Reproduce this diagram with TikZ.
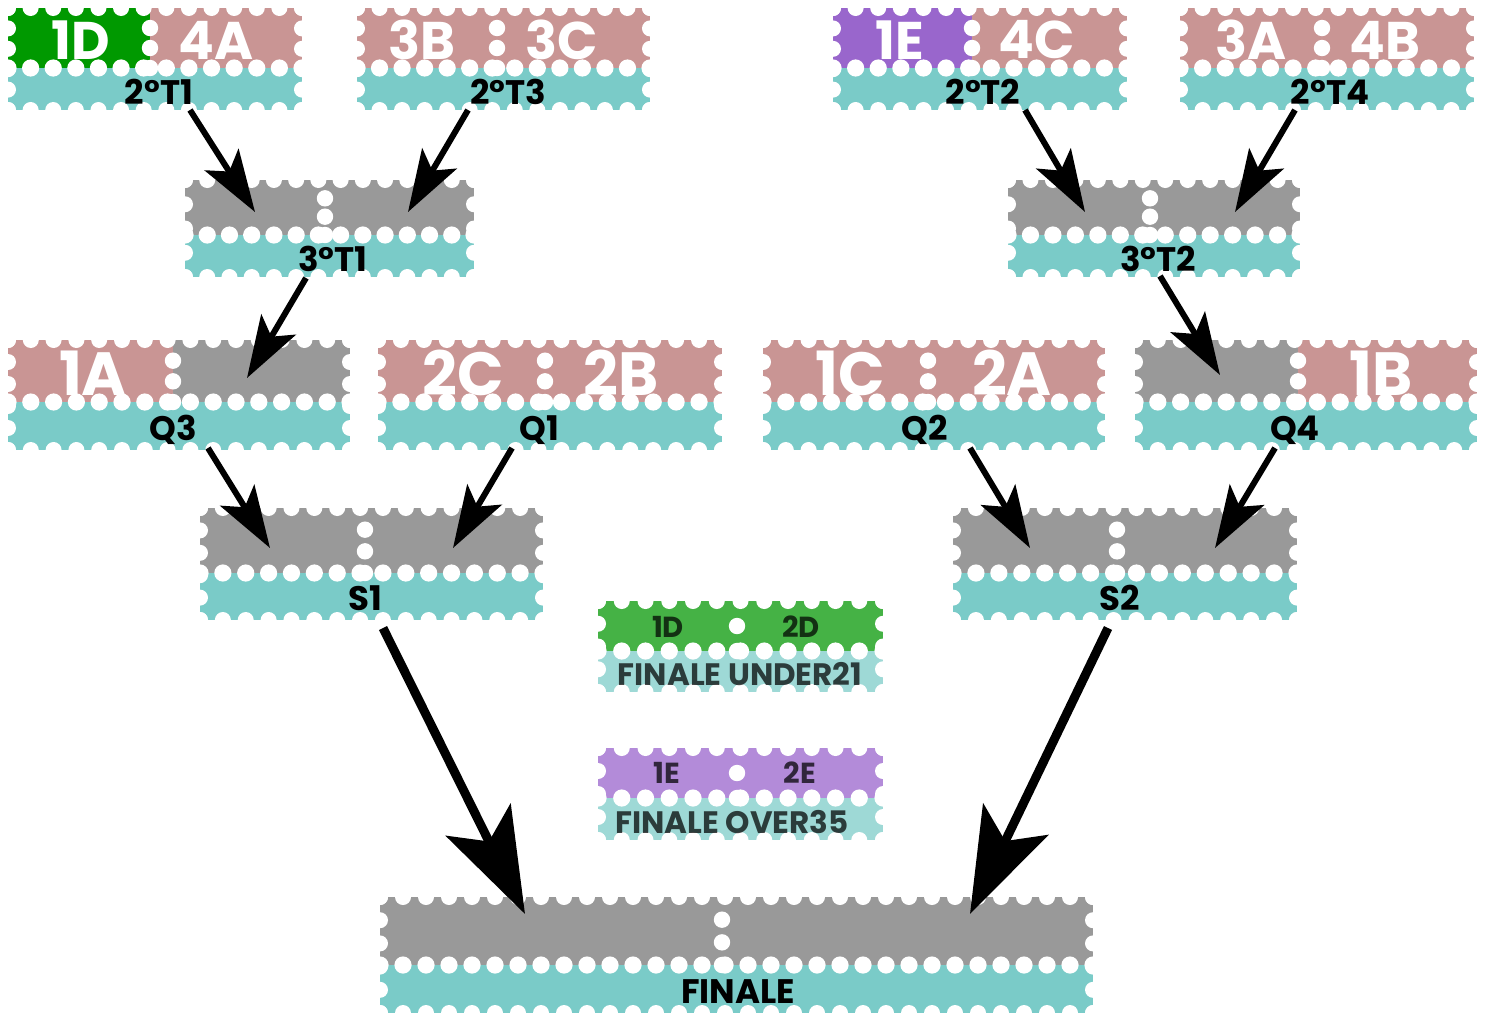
\documentclass[tikz,border=0pt]{standalone}
\usepackage{fontspec}
\setmainfont{Poppins}
\usetikzlibrary{arrows.meta}
\definecolor{cgreen}{HTML}{009900}
\definecolor{cpink}{HTML}{C99594}
\definecolor{cteal}{HTML}{7ACBC8}
\definecolor{cgray}{HTML}{999999}
\definecolor{cpurple}{HTML}{9966CC}
\definecolor{lgreen}{HTML}{45B245}
\definecolor{lpurple}{HTML}{B38BD9}
\definecolor{lteal}{HTML}{9ED9D6}
\tikzset{
  toptxt/.style={text=white,inner sep=0pt,font=\bfseries\fontsize{53}{53}\selectfont},
  bigtop/.style={text=white,inner sep=0pt,font=\bfseries\fontsize{61}{61}\selectfont},
  lbl/.style={text=black,inner sep=0pt,font=\bfseries\fontsize{34}{34}\selectfont},
  legtop/.style={text=black,text opacity=0.72,inner sep=0pt,font=\bfseries\fontsize{29}{29}\selectfont},
  leglbl/.style={text=black,text opacity=0.72,inner sep=0pt,font=\bfseries\fontsize{31}{31}\selectfont},
  arr/.style={line width=6pt,-{Stealth[length=62pt,width=40pt,inset=14pt]}},
  bigarr/.style={line width=9pt,-{Stealth[length=105pt,width=72pt,inset=24pt]}},
  hole/.style={fill=white},
}
% perforations: x1 x2 xd yt ym yb
\newcommand\perfs[6]{%
  \pgfmathtruncatemacro\prfn{round((#2-#1)/23)}%
  \pgfmathsetmacro\prfd{(#2-#1)/\prfn}%
  \foreach \i in {0,...,\prfn}{%
    \pgfmathsetmacro\prfx{#1+\i*\prfd}%
    \fill[hole] (\prfx,#4) circle[radius=8pt];
    \fill[hole] (\prfx,#5) circle[radius=8.6pt];
    \fill[hole] (\prfx,#6) circle[radius=8pt];
  }%
  \pgfmathtruncatemacro\prfm{round((#6-#4)/22)}%
  \pgfmathsetmacro\prfe{(#6-#4)/\prfm}%
  \foreach \j in {0,...,\prfm}{%
    \pgfmathsetmacro\prfy{#4+\j*\prfe}%
    \fill[hole] (#1,\prfy) circle[radius=8pt];
    \fill[hole] (#2,\prfy) circle[radius=8pt];
  }%
  \pgfmathtruncatemacro\prfk{round((#5-#4)/21)}%
  \pgfmathsetmacro\prff{(#5-#4)/\prfk}%
  \foreach \j in {1,...,\prfk}{%
    \pgfmathsetmacro\prfy{#4+\j*\prff}%
    \fill[hole] (#3,\prfy) circle[radius=8.2pt];
  }%
}
% fills: x1 x2 xd yt ym yb leftcol rightcol bottomcol
\newcommand\stampfill[9]{%
  \fill[#7] (#1,#4) rectangle (#3,#5);
  \fill[#8] (#3,#4) rectangle (#2,#5);
  \fill[#9] (#1,#5) rectangle (#2,#6);
}
\begin{document}
\begin{tikzpicture}[x=1pt,y=-1pt]
\useasboundingbox (0,0) rectangle (1487,1013);
\fill[white] (0,0) rectangle (1487,1013);

% ---- row 1
\stampfill{8}{302}{150}{8}{68}{110}{cgreen}{cpink}{cteal}
\perfs{8}{302}{150}{8}{68}{110}
\node[toptxt] (s1l) at (81,40) {1D};
\node[toptxt] (s1r) at (216,40) {4A};
\node[lbl] (t21) at (159,92) {2°T1};

\stampfill{357}{650}{497}{8}{68}{110}{cpink}{cpink}{cteal}
\perfs{357}{650}{497}{8}{68}{110}
\node[toptxt] (s3l) at (422,40) {3B};
\node[toptxt] (s3r) at (562,40) {3C};
\node[lbl] (t23) at (508,92) {2°T3};

\stampfill{833}{1127}{972}{8}{68}{110}{cpurple}{cpink}{cteal}
\perfs{833}{1127}{972}{8}{68}{110}
\node[toptxt] (s2l) at (900,40) {1E};
\node[toptxt] (s2r) at (1037,40) {4C};
\node[lbl] (t22) at (983,92) {2°T2};

\stampfill{1180}{1474}{1322}{8}{68}{110}{cpink}{cpink}{cteal}
\perfs{1180}{1474}{1322}{8}{68}{110}
\node[toptxt] (s4l) at (1251,40) {3A};
\node[toptxt] (s4r) at (1385,40) {4B};
\node[lbl] (t24) at (1330,92) {2°T4};

% ---- row 2
\stampfill{185}{474}{325}{180}{235}{277}{cgray}{cgray}{cteal}
\perfs{185}{474}{325}{180}{235}{277}
\node[lbl] (t31) at (333,259) {3°T1};

\stampfill{1008}{1300}{1150}{180}{235}{277}{cgray}{cgray}{cteal}
\perfs{1008}{1300}{1150}{180}{235}{277}
\node[lbl] (t32) at (1158,259) {3°T2};

% ---- row 3
\stampfill{8}{350}{173}{340}{402}{450}{cpink}{cgray}{cteal}
\perfs{8}{350}{173}{340}{402}{450}
\node[bigtop] (q3l) at (93,373) {1A};
\node[lbl] (q3) at (173,430) {Q3};

\stampfill{378}{722}{545}{340}{402}{450}{cpink}{cpink}{cteal}
\perfs{378}{722}{545}{340}{402}{450}
\node[bigtop] (q1l) at (463,373) {2C};
\node[bigtop] (q1r) at (621,373) {2B};
\node[lbl] (q1) at (539,430) {Q1};

\stampfill{763}{1105}{928}{340}{402}{450}{cpink}{cpink}{cteal}
\perfs{763}{1105}{928}{340}{402}{450}
\node[bigtop] (q2l) at (850,373) {1C};
\node[bigtop] (q2r) at (1012,373) {2A};
\node[lbl] (q2) at (925,430) {Q2};

\stampfill{1135}{1477}{1298}{340}{402}{450}{cgray}{cpink}{cteal}
\perfs{1135}{1477}{1298}{340}{402}{450}
\node[bigtop] (q4r) at (1381,373) {1B};
\node[lbl] (q4) at (1295,430) {Q4};

% ---- row 4
\stampfill{200}{543}{365}{508}{573}{620}{cgray}{cgray}{cteal}
\perfs{200}{543}{365}{508}{573}{620}
\node[lbl] (sf1) at (365,598) {S1};

\stampfill{953}{1297}{1117}{508}{573}{620}{cgray}{cgray}{cteal}
\perfs{953}{1297}{1117}{508}{573}{620}
\node[lbl] (sf2) at (1120,598) {S2};

% ---- final
\stampfill{380}{1093}{722}{897}{965}{1013}{cgray}{cgray}{cteal}
\perfs{380}{1093}{722}{897}{965}{1013}
\node[lbl] (fin) at (738,992) {FINALE};

% ---- legend
\stampfill{598}{883}{737}{601}{651}{692}{lgreen}{lgreen}{lteal}
\perfs{598}{883}{737}{601}{651}{692}
\node[legtop] (u1) at (668,627) {1D};
\node[legtop] (u2) at (801,627) {2D};
\node[leglbl] (u21) at (740,674) {FINALE UNDER21};

\stampfill{598}{883}{737}{748}{798}{840}{lpurple}{lpurple}{lteal}
\perfs{598}{883}{737}{748}{798}{840}
\node[legtop] (o1) at (667,773) {1E};
\node[legtop] (o2) at (800,773) {2E};
\node[leglbl] (o35) at (732,822) {FINALE OVER35};

% ---- connectors
\coordinate (a1s) at (190,110); \coordinate (a1e) at (255,212);
\coordinate (a2s) at (468,110); \coordinate (a2e) at (408,212);
\coordinate (a3s) at (1025,110); \coordinate (a3e) at (1085,212);
\coordinate (a4s) at (1295,110); \coordinate (a4e) at (1235,212);
\coordinate (a5s) at (306,278); \coordinate (a5e) at (247,378);
\coordinate (a6s) at (1160,276); \coordinate (a6e) at (1220,375);
\coordinate (a7s) at (208,448); \coordinate (a7e) at (270,548);
\coordinate (a8s) at (512,448); \coordinate (a8e) at (453,548);
\coordinate (a9s) at (970,448); \coordinate (a9e) at (1030,548);
\coordinate (a10s) at (1275,448); \coordinate (a10e) at (1215,548);
\coordinate (a11s) at (383,628); \coordinate (a11e) at (525,914);
\coordinate (a12s) at (1108,628); \coordinate (a12e) at (970,914);
\draw[arr] (a1s) -- (a1e);
\draw[arr] (a2s) -- (a2e);
\draw[arr] (a3s) -- (a3e);
\draw[arr] (a4s) -- (a4e);
\draw[arr] (a5s) -- (a5e);
\draw[arr] (a6s) -- (a6e);
\draw[arr] (a7s) -- (a7e);
\draw[arr] (a8s) -- (a8e);
\draw[arr] (a9s) -- (a9e);
\draw[arr] (a10s) -- (a10e);
\draw[bigarr] (a11s) -- (a11e);
\draw[bigarr] (a12s) -- (a12e);
\end{tikzpicture}
\end{document}
